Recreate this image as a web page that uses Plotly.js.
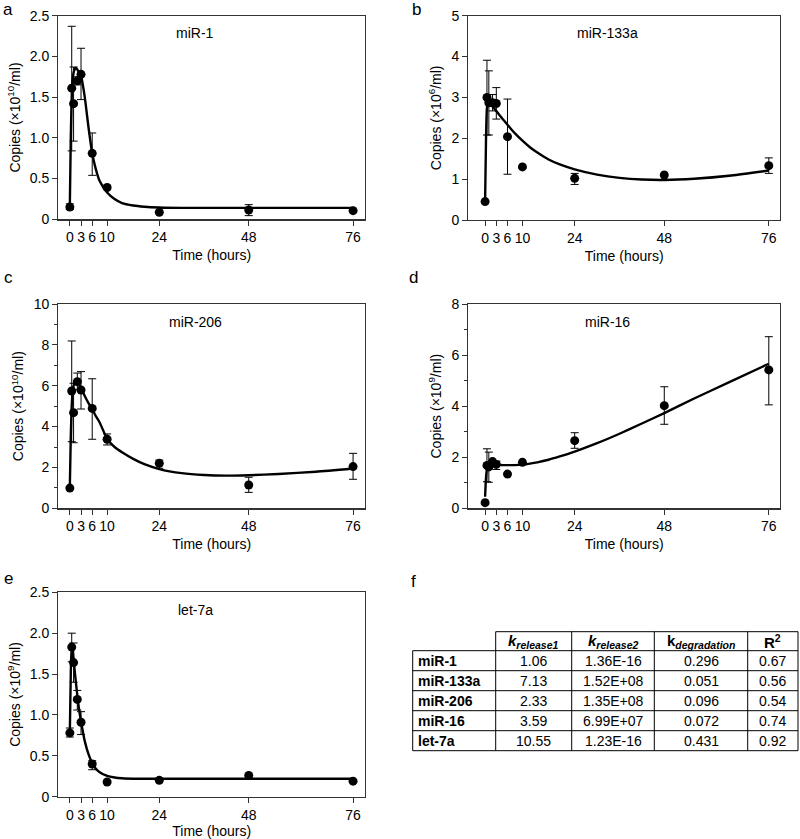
<!DOCTYPE html>
<html>
<head>
<meta charset="utf-8">
<script src="https://cdn.plot.ly/plotly-3.0.1.min.js"></script>
<style>html,body{margin:0;padding:0;background:#fff;}#chart{width:800px;height:839px;}</style>
</head>
<body>
<div id="chart"></div>
<script>
// ---------- data ----------
const TIME = [0, 0.5, 1, 2, 3, 6, 10, 24, 48, 76];
const X_TICKS = [0, 3, 6, 10, 24, 48, 76];
const CURVE_TIME = [0, 0.25, 0.5, 0.75, 1, 1.5, 2, 2.5, 3, 4, 5, 6, 7, 8, 10, 12, 14, 17, 20, 24, 30, 36, 42, 48, 56, 66, 76];

// a: miR-1
const MIR1_MEAN = [0.15, 1.61, 1.42, 1.70, 1.78, 0.81, 0.39, 0.086, 0.114, 0.106];
const MIR1_UP   = [0.19, 2.37, 1.87, 1.75, 2.10, 1.06, null, null, 0.18, null];
const MIR1_LOW  = [0.12, 0.84, 0.96, 1.65, 1.47, 0.54, null, null, 0.045, null];
const MIR1_FIT  = [0.18, 1.0, 1.5, 1.72, 1.8, 1.86, 1.84, 1.8, 1.76, 1.5, 1.13, 0.81, 0.61, 0.47, 0.33, 0.25, 0.2, 0.17, 0.155, 0.145, 0.14, 0.14, 0.14, 0.14, 0.14, 0.14, 0.14];

// b: miR-133a
const MIR133A_MEAN = [0.45, 3.00, 2.87, 2.87, 2.85, 2.04, 1.30, 1.02, 1.10, 1.33];
const MIR133A_UP   = [null, 3.91, 3.65, 3.07, 3.24, 2.96, null, 1.14, null, 1.52];
const MIR133A_LOW  = [null, 2.08, 2.08, 2.67, 2.47, 1.12, null, 0.87, null, 1.14];
const MIR133A_FIT  = [0.45, 2.0, 2.75, 2.85, 2.86, 2.82, 2.78, 2.72, 2.67, 2.55, 2.44, 2.33, 2.22, 2.12, 1.94, 1.78, 1.65, 1.48, 1.36, 1.24, 1.11, 1.03, 0.99, 0.98, 1.01, 1.09, 1.21];

// c: miR-206
const MIR206_MEAN = [0.99, 5.74, 4.68, 6.20, 5.79, 4.89, 3.38, 2.20, 1.14, 2.04];
const MIR206_UP   = [null, 8.19, 6.12, 6.62, 6.69, 6.34, 3.64, 2.36, 1.52, 2.69];
const MIR206_LOW  = [null, 3.26, 3.21, 5.80, 4.86, 3.38, 3.10, 1.96, 0.78, 1.42];
const MIR206_FIT  = [1.1, 3.5, 5.0, 5.7, 6.0, 6.2, 6.2, 6.05, 5.88, 5.5, 5.15, 4.85, 4.5, 4.2, 3.4, 3.0, 2.74, 2.42, 2.16, 1.92, 1.72, 1.63, 1.6, 1.62, 1.68, 1.79, 1.95];

// d: miR-16
const MIR16_MEAN = [0.22, 1.68, 1.62, 1.83, 1.72, 1.34, 1.80, 2.65, 4.02, 5.42];
const MIR16_UP   = [null, 2.33, 2.20, null, 1.85, null, null, 2.96, 4.76, 6.72];
const MIR16_LOW  = [null, 1.04, 1.02, null, 1.52, null, null, 2.35, 3.29, 4.05];
const MIR16_FIT  = [0.45, 1.2, 1.55, 1.68, 1.72, 1.74, 1.73, 1.72, 1.71, 1.7, 1.69, 1.69, 1.69, 1.69, 1.71, 1.75, 1.8, 1.9, 2.03, 2.22, 2.55, 2.92, 3.32, 3.73, 4.3, 4.98, 5.66];

// e: let-7a
const LET7A_MEAN = [0.78, 1.83, 1.64, 1.19, 0.91, 0.40, 0.18, 0.20, 0.26, 0.19];
const LET7A_UP   = [0.84, 2.00, 1.88, 1.30, 1.04, 0.44, null, null, null, null];
const LET7A_LOW  = [0.73, 1.65, 1.40, 1.06, 0.76, 0.33, null, null, null, null];
const LET7A_FIT  = [0.8, 1.5, 1.82, 1.8, 1.68, 1.45, 1.24, 1.06, 0.92, 0.68, 0.52, 0.41, 0.34, 0.3, 0.255, 0.235, 0.225, 0.22, 0.22, 0.22, 0.22, 0.22, 0.22, 0.22, 0.22, 0.22, 0.22];

// f: table
const TABLE_ROWS = ['miR-1', 'miR-133a', 'miR-206', 'miR-16', 'let-7a'];
const K_RELEASE1 = ['1.06', '7.13', '2.33', '3.59', '10.55'];
const K_RELEASE2 = ['1.36E-16', '1.52E+08', '1.35E+08', '6.99E+07', '1.23E-16'];
const K_DEGRADATION = ['0.296', '0.051', '0.096', '0.072', '0.431'];
const R_SQUARED = ['0.67', '0.56', '0.54', '0.74', '0.92'];
const TABLE_HEADER = ['', '<b><i>k</i><sub><i>release1</i></sub></b>', '<b><i>k</i><sub><i>release2</i></sub></b>', '<b>k<sub><i>degradation</i></sub></b>', '<b>R<sup>2</sup></b>'];

const PANELS = [
  {name: 'miR-1', letter: 'a', mean: MIR1_MEAN, up: MIR1_UP, low: MIR1_LOW, fit: MIR1_FIT,
   ytitle: 'Copies (×10<sup>10</sup>/ml)', yTickVals: [0, 0.5, 1, 1.5, 2, 2.5], yTickText: ['0', '0.5', '1.0', '1.5', '2.0', '2.5'], yMax: 2.5},
  {name: 'miR-133a', letter: 'b', mean: MIR133A_MEAN, up: MIR133A_UP, low: MIR133A_LOW, fit: MIR133A_FIT,
   ytitle: 'Copies (×10<sup>6</sup>/ml)', yTickVals: [0, 1, 2, 3, 4, 5], yTickText: ['0', '1', '2', '3', '4', '5'], yMax: 5},
  {name: 'miR-206', letter: 'c', mean: MIR206_MEAN, up: MIR206_UP, low: MIR206_LOW, fit: MIR206_FIT,
   ytitle: 'Copies (×10<sup>10</sup>/ml)', yTickVals: [0, 2, 4, 6, 8, 10], yTickText: ['0', '2', '4', '6', '8', '10'], yMax: 10, minor: 1},
  {name: 'miR-16', letter: 'd', mean: MIR16_MEAN, up: MIR16_UP, low: MIR16_LOW, fit: MIR16_FIT,
   ytitle: 'Copies (×10<sup>9</sup>/ml)', yTickVals: [0, 2, 4, 6, 8], yTickText: ['0', '2', '4', '6', '8'], yMax: 8, minor: 1},
  {name: 'let-7a', letter: 'e', mean: LET7A_MEAN, up: LET7A_UP, low: LET7A_LOW, fit: LET7A_FIT,
   ytitle: 'Copies (×10<sup>9</sup>/ml)', yTickVals: [0, 0.5, 1, 1.5, 2, 2.5], yTickText: ['0', '0.5', '1.0', '1.5', '2.0', '2.5'], yMax: 2.5}
];

// ---------- layout geometry (pixels) ----------
const W = 800, H = 839;
const GEOM = [
  {x0: 58.3, x1: 365, y0: 15.7, y1: 219.3, xr: [-3.1, 79.2], lx: 8, ly: 10},
  {x0: 468.3, x1: 780, y0: 15.7, y1: 220, xr: [-4.5, 79.0], lx: 416, ly: 10},
  {x0: 58.3, x1: 365, y0: 304, y1: 508.3, xr: [-3.1, 79.2], lx: 8, ly: 277},
  {x0: 468.3, x1: 780, y0: 304, y1: 508.3, xr: [-4.5, 79.0], lx: 414, ly: 277},
  {x0: 58.3, x1: 365, y0: 592.3, y1: 796.7, xr: [-3.1, 79.2], lx: 8, ly: 578}
];
const TABLE_COL_X = [412.7, 495.7, 571.7, 654.3, 747.7, 798];
const TABLE_ROW_Y = [631.7, 650.7, 670.7, 690.7, 710.7, 730.7, 750.7];
const FONT = 'Liberation Sans, Arial, sans-serif';
const px = v => v / W, py = v => 1 - v / H;

const traces = [];
const layout = {
  width: W, height: H,
  margin: {l: 0, r: 0, t: 0, b: 0},
  paper_bgcolor: '#fff', plot_bgcolor: '#fff',
  showlegend: false,
  font: {family: FONT, size: 14, color: '#000'},
  annotations: [],
  shapes: []
};

PANELS.forEach((p, i) => {
  const g = GEOM[i];
  const n = i === 0 ? '' : String(i + 1);
  const xa = 'x' + n, ya = 'y' + n;
  const plusErr = p.mean.map((m, k) => p.up[k] == null ? NaN : p.up[k] - m);
  const minusErr = p.mean.map((m, k) => p.low[k] == null ? NaN : m - p.low[k]);
  traces.push({
    x: CURVE_TIME, y: p.fit, xaxis: xa, yaxis: ya, type: 'scatter', mode: 'lines',
    line: {color: '#000', width: 2.4, shape: 'spline', smoothing: 0.6}, hoverinfo: 'skip'
  });
  traces.push({
    x: TIME, y: p.mean, xaxis: xa, yaxis: ya, type: 'scatter', mode: 'markers',
    marker: {color: '#000', size: 9},
    error_y: {type: 'data', symmetric: false, array: plusErr, arrayminus: minusErr,
              color: '#000', thickness: 1, width: 4}
  });
  const axBase = {
    showline: true, mirror: true, linecolor: '#333', linewidth: 1.2,
    ticks: 'outside', ticklen: 5, tickwidth: 1, tickcolor: '#333',
    showgrid: false, zeroline: false,
    tickfont: {family: FONT, size: 14, color: '#000'}
  };
  layout['xaxis' + n] = Object.assign({}, axBase, {
    domain: [px(g.x0), px(g.x1)], range: g.xr, anchor: ya,
    tickmode: 'array', tickvals: X_TICKS, ticktext: X_TICKS.map(String),
    title: {text: 'Time (hours)', font: {family: FONT, size: 14, color: '#000'}, standoff: 6}
  });
  const yax = Object.assign({}, axBase, {
    domain: [py(g.y1), py(g.y0)], range: [0, p.yMax], anchor: xa,
    tickmode: 'array', tickvals: p.yTickVals, ticktext: p.yTickText,
    title: {text: p.ytitle, font: {family: FONT, size: 14, color: '#000'}, standoff: 6}
  });
  if (p.minor) {
    yax.minor = {ticks: 'outside', ticklen: 3, tickwidth: 1, tickcolor: '#333', dtick: p.minor, tick0: 0, showgrid: false};
    yax.tickmode = 'linear'; yax.tick0 = 0; yax.dtick = p.yTickVals[1] - p.yTickVals[0];
    delete yax.tickvals; delete yax.ticktext;
  }
  layout['yaxis' + n] = yax;
  layout.annotations.push({
    xref: xa + ' domain', yref: ya + ' domain', x: 0.447, y: 0.913,
    text: p.name, showarrow: false, xanchor: 'center', yanchor: 'middle',
    font: {family: FONT, size: 14, color: '#000'}
  });
  layout.annotations.push({
    xref: 'paper', yref: 'paper', x: px(g.lx), y: py(g.ly),
    text: p.letter, showarrow: false, xanchor: 'center', yanchor: 'middle',
    font: {family: FONT, size: 17, color: '#000'}
  });
});

layout.annotations.push({
  xref: 'paper', yref: 'paper', x: px(413), y: py(581),
  text: 'f', showarrow: false, xanchor: 'center', yanchor: 'middle',
  font: {family: FONT, size: 17, color: '#000'}
});

// ---------- table f, built from the arrays above ----------
const TABLE_COLUMNS = [TABLE_ROWS.map(r => '<b>' + r + '</b>'), K_RELEASE1, K_RELEASE2, K_DEGRADATION, R_SQUARED];
const tLine = {color: '#000', width: 1};
// horizontal rules
TABLE_ROW_Y.forEach((y, r) => {
  layout.shapes.push({type: 'line', xref: 'paper', yref: 'paper', layer: 'above',
    x0: px(r === 0 ? TABLE_COL_X[1] : TABLE_COL_X[0]), x1: px(TABLE_COL_X[5]), y0: py(y), y1: py(y), line: tLine});
});
// vertical rules
TABLE_COL_X.forEach((x, c) => {
  layout.shapes.push({type: 'line', xref: 'paper', yref: 'paper', layer: 'above',
    x0: px(x), x1: px(x), y0: py(c === 0 ? TABLE_ROW_Y[1] : TABLE_ROW_Y[0]), y1: py(TABLE_ROW_Y[6]), line: tLine});
});
// header
TABLE_HEADER.forEach((h, c) => {
  if (!h) return;
  layout.annotations.push({
    xref: 'paper', yref: 'paper', x: px((TABLE_COL_X[c] + TABLE_COL_X[c + 1]) / 2),
    y: py((TABLE_ROW_Y[0] + TABLE_ROW_Y[1]) / 2), text: h, showarrow: false,
    xanchor: 'center', yanchor: 'middle', font: {family: FONT, size: 15, color: '#000'}
  });
});
// body cells
TABLE_COLUMNS.forEach((col, c) => {
  col.forEach((v, r) => {
    const left = c === 0;
    layout.annotations.push({
      xref: 'paper', yref: 'paper',
      x: left ? px(TABLE_COL_X[0] + 3) : px((TABLE_COL_X[c] + TABLE_COL_X[c + 1]) / 2),
      y: py((TABLE_ROW_Y[r + 1] + TABLE_ROW_Y[r + 2]) / 2 + 0.5), text: v, showarrow: false,
      xanchor: left ? 'left' : 'center', yanchor: 'middle',
      font: {family: FONT, size: 14, color: '#000'}
    });
  });
});

Plotly.newPlot('chart', traces, layout, {displayModeBar: false, staticPlot: true});
</script>
</body>
</html>
